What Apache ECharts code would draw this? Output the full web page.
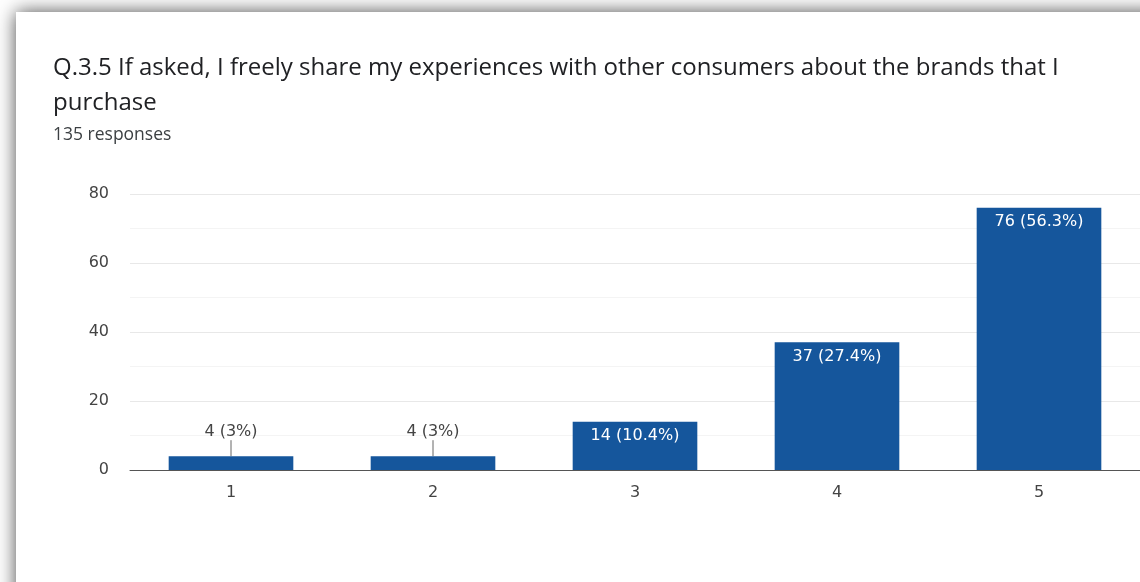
<!DOCTYPE html>
<html>
<head>
<meta charset="utf-8">
<style>
  html, body { margin: 0; padding: 0; background: #ffffff; }
  #chart { width: 1140px; height: 582px; }
</style>
<script src="https://cdn.jsdelivr.net/npm/echarts@6/dist/echarts.min.js"></script>
</head>
<body>
<div id="chart"></div>
<script>
// Survey question and response count
const questionText = 'Q.3.5 If asked, I freely share my experiences with other consumers about the brands that I\npurchase';
const responsesText = '135 responses';

// Likert scale answers and counts
const categories = ['1', '2', '3', '4', '5'];
const counts = [4, 4, 14, 37, 76];
const percents = ['3', '3', '10.4', '27.4', '56.3'];

// Value axis ticks
const yMin = 0;
const yMax = 80;
const yStep = 20;

const BAR_COLOR = '#15569c';
const LABEL_FONT = 'DejaVu Sans, sans-serif';
const TITLE_FONT = 'Open Sans, sans-serif';

// Small bars get their label above with a short guide line; tall bars carry it inside.
const OUTSIDE_LIMIT = 10;

const barData = counts.map((v) => {
  const outside = v < OUTSIDE_LIMIT;
  return {
    value: v,
    label: outside
      ? { position: 'top', distance: 0, color: '#444444' }
      : { position: 'insideTop', distance: 6, color: '#ffffff' }
  };
});

const chart = echarts.init(document.getElementById('chart'), null, { renderer: 'canvas' });

chart.setOption({
  animation: false,
  backgroundColor: '#ffffff',
  graphic: [
    {
      type: 'rect',
      z: -10,
      silent: true,
      shape: { x: 16, y: 12, width: 1300, height: 700 },
      style: {
        fill: '#ffffff',
        shadowBlur: 18,
        shadowColor: 'rgba(0,0,0,0.7)',
        shadowOffsetX: 0,
        shadowOffsetY: 0
      }
    }
  ],
  title: [
    {
      text: questionText,
      left: 53,
      top: 51,
      padding: 0,
      textStyle: {
        fontFamily: TITLE_FONT,
        fontSize: 24,
        fontWeight: 'normal',
        color: '#202124',
        lineHeight: 35
      }
    },
    {
      text: responsesText,
      left: 53,
      top: 125,
      padding: 0,
      textStyle: {
        fontFamily: TITLE_FONT,
        fontSize: 17.5,
        fontWeight: 'normal',
        color: '#3c4043',
        lineHeight: 20
      }
    }
  ],
  grid: {
    left: 130,
    top: 194,
    width: 1012,
    height: 276,
    containLabel: false
  },
  xAxis: {
    type: 'category',
    data: categories,
    axisLine: { show: true, lineStyle: { color: '#555555', width: 1 } },
    axisTick: { show: false },
    axisLabel: {
      margin: 15,
      fontSize: 16,
      fontFamily: LABEL_FONT,
      color: '#444444'
    },
    splitLine: { show: false }
  },
  yAxis: {
    type: 'value',
    min: yMin,
    max: yMax,
    interval: yStep,
    axisLine: { show: false },
    axisTick: { show: false },
    axisLabel: {
      margin: 21,
      fontSize: 16,
      fontFamily: LABEL_FONT,
      color: '#444444',
      padding: [6, 0, 0, 0]
    },
    splitLine: { show: true, lineStyle: { color: '#e8e8e8', width: 1 } },
    minorTick: { show: false, splitNumber: 2 },
    minorSplitLine: { show: true, lineStyle: { color: '#f4f4f4', width: 1 } }
  },
  series: [
    {
      type: 'bar',
      data: barData,
      barWidth: '61.7%',
      itemStyle: { color: BAR_COLOR },
      label: {
        show: true,
        fontSize: 16,
        fontFamily: LABEL_FONT,
        formatter: (p) => p.value + ' (' + percents[p.dataIndex] + '%)'
      },
      labelLine: {
        show: true,
        lineStyle: { color: '#666666', width: 1 }
      },
      labelLayout: (params) => {
        return counts[params.dataIndex] < OUTSIDE_LIMIT ? { dy: -16 } : {};
      }
    }
  ]
});
</script>
</body>
</html>
